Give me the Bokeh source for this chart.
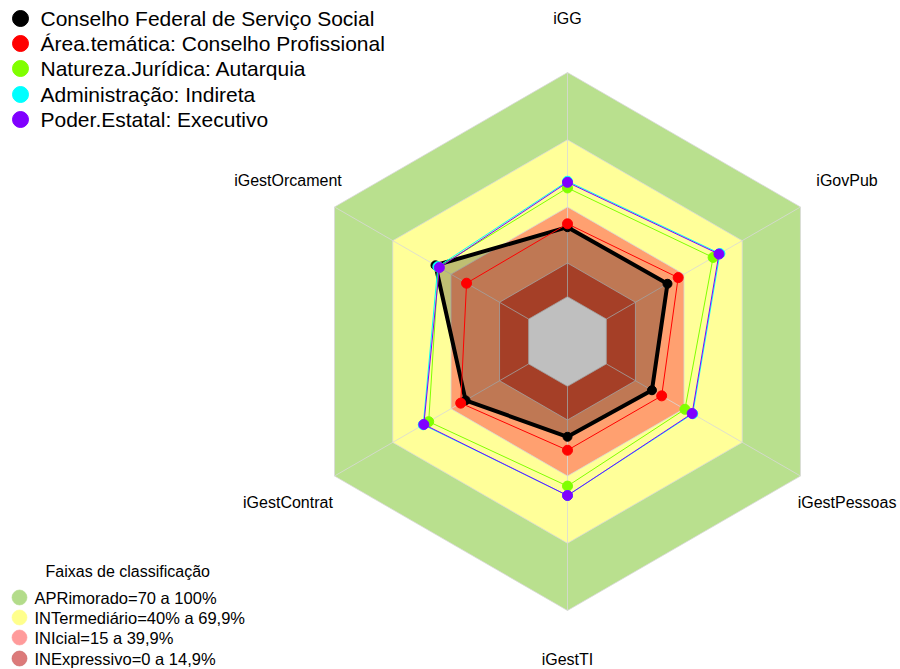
import numpy as np
from bokeh.plotting import figure
from bokeh.models import Range1d, ColumnDataSource
from bokeh.core.properties import value
from bokeh.embed import file_html
from bokeh.resources import INLINE

# ---- data ----
axes_labels = ["iGG", "iGovPub", "iGestPessoas", "iGestTI", "iGestContrat", "iGestOrcament"]
series_names = ["Conselho Federal de Serviço Social",
                "Área.temática: Conselho Profissional",
                "Natureza.Jurídica: Autarquia",
                "Administração: Indireta",
                "Poder.Estatal: Executivo"]
conselho = [31, 31.5, 23.5, 22.5, 32.5, 48]
area = [32.5, 37, 28.5, 28.5, 35, 32]
natureza = [48.5, 55, 40.5, 44.5, 51.5, 46.5]
administracao = [51.5, 58.5, 44.5, 48.7, 54.3, 46.8]
poder = [51, 58, 44.2, 48.7, 54, 46]
series_values = [conselho, area, natureza, administracao, poder]
series_colors = ["#000000", "#FF0000", "#80FF00", "#00FFFF", "#8000FF"]

band_limits = [100, 70, 40, 15, 0]
band_colors = ["#B9E08E", "#FFFF99", "#FFA070", "#DC5535", "#FFFFFF"]
band_title = "Faixas de classificação"
band_labels = ["APRimorado=70 a 100%", "INTermediário=40% a 69,9%",
               "INIcial=15 a 39,9%", "INExpressivo=0 a 14,9%"]
band_legend_colors = ["#B3DC8A", "#FFFF8C", "#FF9B9B", "#DC7A7A"]

# ---- geometry ----
W, H = 900, 669
R = 269.0
cx_page, cy_page = 567, 341
fx, fy = cx_page, cy_page  # center in figure pixels

p = figure(width=W, height=H, output_backend="svg", toolbar_location=None,
           x_range=Range1d(-fx / R, (W - fx) / R), y_range=Range1d(-(H - fy) / R, fy / R),
           min_border=0, outline_line_color=None)
p.axis.visible = False
p.grid.visible = False
p.background_fill_color = "white"
p.border_fill_color = "white"

n = len(axes_labels)
angles = np.deg2rad(90 - 60 * np.arange(n))


def rad(v):
    return (1 + 5 * np.asarray(v, dtype=float) / 100.0) / 6.0


def page(x, y):
    return ((x - cx_page) / R, (cy_page - y) / R)


# bands
for lim, col in zip(band_limits, band_colors):
    r = rad(lim)
    p.patch(list(r * np.cos(angles)), list(r * np.sin(angles)), fill_color=col,
            line_color=None)

# grid
grid_col = "#D8D8D8"
for lim in band_limits:
    r = rad(lim)
    xs = list(r * np.cos(angles)) + [r * np.cos(angles[0])]
    ys = list(r * np.sin(angles)) + [r * np.sin(angles[0])]
    p.line(xs, ys, line_color=grid_col, line_width=1, line_alpha=0.8)
r0, r1 = rad(0), rad(100)
p.segment(list(r0 * np.cos(angles)), list(r0 * np.sin(angles)),
          list(r1 * np.cos(angles)), list(r1 * np.sin(angles)),
          line_color=grid_col, line_width=1, line_alpha=0.8)

# axis labels
lr = 1.2
lab_src = ColumnDataSource(dict(
    x=list(lr * np.cos(angles)), y=list(lr * np.sin(angles)), t=axes_labels,
    yo=[-5 if np.sin(a) < -0.99 else 0 for a in angles]))
p.text("x", "y", text="t", y_offset="yo", source=lab_src,
       text_align="center", text_baseline="middle", text_font=value("Liberation Sans"),
       text_font_size="16px", text_color="black")

# series
for i, (vals, col) in enumerate(zip(series_values, series_colors)):
    r = rad(vals)
    xs = list(r * np.cos(angles))
    ys = list(r * np.sin(angles))
    if i == 0:
        p.patch(xs, ys, fill_color="black", fill_alpha=0.25, line_color="black",
                line_width=4, line_join="round")
        p.scatter(xs, ys, size=9, fill_color=col, line_color=col)
    else:
        p.line(xs + [xs[0]], ys + [ys[0]], line_color=col, line_width=1)
        p.scatter(xs, ys, size=10, fill_color=col, line_color=col)

# top legend
ys_leg = [18, 43, 68, 94, 119]
for name, col, yy in zip(series_names, series_colors, ys_leg):
    mx, my = page(20, yy)
    tx, ty = page(40, yy)
    p.scatter([mx], [my], size=16, fill_color=col, line_color=col)
    p.text([tx], [ty], text=[name], text_align="left", text_baseline="middle",
           text_font=value("Liberation Sans"), text_font_size="21px", text_color="black")

# bottom legend
tx, ty = page(45, 571)
p.text([tx], [ty], text=[band_title], text_align="left", text_baseline="middle",
       text_font=value("Liberation Sans"), text_font_size="16px", text_color="black")
ys_b = [597, 617, 637, 658]
for lab, col, yy in zip(band_labels, band_legend_colors, ys_b):
    mx, my = page(19, yy)
    tx, ty = page(34, yy)
    p.scatter([mx], [my], size=15, fill_color=col,
              line_color="#C86464" if lab.startswith("INE") else col, line_alpha=0.6)
    p.text([tx], [ty], text=[lab], text_align="left", text_baseline="middle",
           text_font=value("Liberation Sans"), text_font_size="16.5px", text_color="black")

open("out.html", "w").write(file_html(p, INLINE))
